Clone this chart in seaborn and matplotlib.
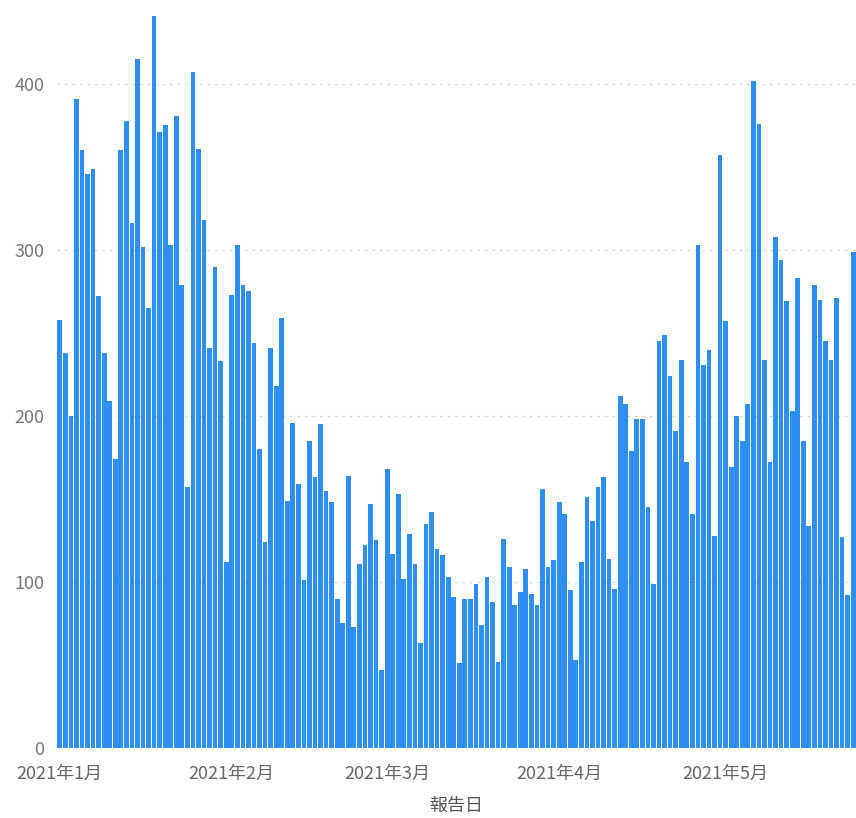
import matplotlib
matplotlib.use("Agg")
import matplotlib.pyplot as plt
import seaborn as sns
import pandas as pd
import numpy as np

# Daily reported counts, 2021-01-01 .. 2021-05-24
dates = pd.date_range("2021-01-01", "2021-05-24", freq="D")
values = [
    258, 238, 200, 391, 360, 346, 349, 272, 238, 209, 174, 360, 378, 316, 415, 302, 265, 441, 371, 375,
    303, 381, 279, 157, 407, 361, 318, 241, 290, 233, 112,
    273, 303, 279, 275, 244, 180, 124, 241, 218, 259, 149, 196, 159, 101, 185, 163, 195, 155,
    148, 90, 75, 164, 73, 111, 122, 147, 125, 47,
    168, 117, 153, 102, 129, 111, 63, 135, 142, 120, 116, 103, 91, 51, 90, 90, 99, 74, 103,
    88, 52, 126, 109, 86, 94, 108, 93, 86, 156, 109, 113,
    148, 141, 95, 53, 112, 151, 137, 157, 163, 114, 96, 212, 207, 179, 198, 198, 145, 99,
    245, 249, 224, 191, 234, 172, 141, 303, 231, 240, 128,
    357, 257, 169, 200, 185, 207, 402, 376, 234, 172, 308, 294, 269, 203, 283, 185, 134,
    279, 270, 245, 234, 271, 127, 92, 299,
]
month_ticks = ["2021-01-01", "2021-02-01", "2021-03-01", "2021-04-01", "2021-05-01"]
month_labels = ["2021年1月", "2021年2月", "2021年3月", "2021年4月", "2021年5月"]
y_ticks = [0, 100, 200, 300, 400]
x_label = "報告日"

sns.set_theme(style="white")
plt.rcParams["font.family"] = ["Noto Sans CJK JP", "DejaVu Sans"]

df = pd.DataFrame({"date": dates.strftime("%Y-%m-%d"), "value": values})

fig = plt.figure(figsize=(8.56, 8.18), dpi=100)
ax = fig.add_axes([57 / 856, 70 / 818, 799 / 856, 748 / 818])

sns.barplot(data=df, x="date", y="value", color="#2E8FF0", saturation=1,
            width=0.85, ax=ax, linewidth=0)

ax.set_xlim(-0.5, len(values) - 0.5)
ax.set_ylim(0, 450.6)

tick_pos = [list(df["date"]).index(d) for d in month_ticks]
ax.set_xticks(tick_pos)
ax.set_xticklabels(month_labels, fontsize=13, color="#666666")
ax.set_yticks(y_ticks)
ax.set_yticklabels([str(v) for v in y_ticks], fontsize=13, color="#777777")
ax.tick_params(axis="x", length=0, pad=12)
ax.tick_params(axis="y", length=0, pad=9)

for v in y_ticks[1:]:
    ax.axhline(v, color="#D5D5D5", linestyle=(0, (2, 4)), linewidth=0.9, zorder=0)

ax.set_xlabel(x_label, fontsize=13, color="#555555", labelpad=10)
ax.set_ylabel("")
for s in ax.spines.values():
    s.set_visible(False)

fig.savefig("out.png", dpi=100)
